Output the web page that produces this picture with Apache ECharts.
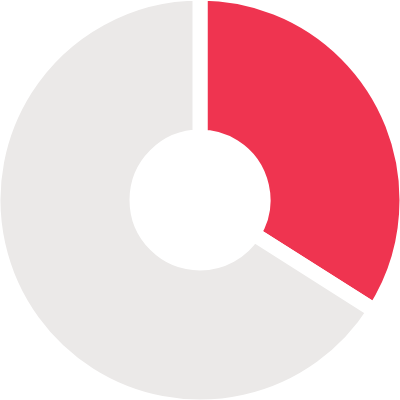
<!DOCTYPE html>
<html>
<head>
<meta charset="utf-8">
<script src="https://cdn.jsdelivr.net/npm/echarts@6/dist/echarts.min.js"></script>
<style>html,body{margin:0;padding:0;background:#fff;}#c{width:400px;height:400px;}</style>
</head>
<body>
<div id="c"></div>
<script>
const categories = ['A', 'B'];
const values = [34, 66];
const colors = ['#EF3450', '#EBE9E8'];

const chart = echarts.init(document.getElementById('c'), null, {renderer: 'canvas'});
chart.setOption({
  animation: false,
  backgroundColor: '#ffffff',
  series: [{
    type: 'pie',
    center: [200, 200],
    radius: [63, 207],
    startAngle: 90,
    clockwise: true,
    label: {show: false},
    labelLine: {show: false},
    emphasis: {disabled: true},
    itemStyle: {borderColor: '#ffffff', borderWidth: 15},
    data: categories.map((c, i) => ({name: c, value: values[i], itemStyle: {color: colors[i]}}))
  }]
});
</script>
</body>
</html>
